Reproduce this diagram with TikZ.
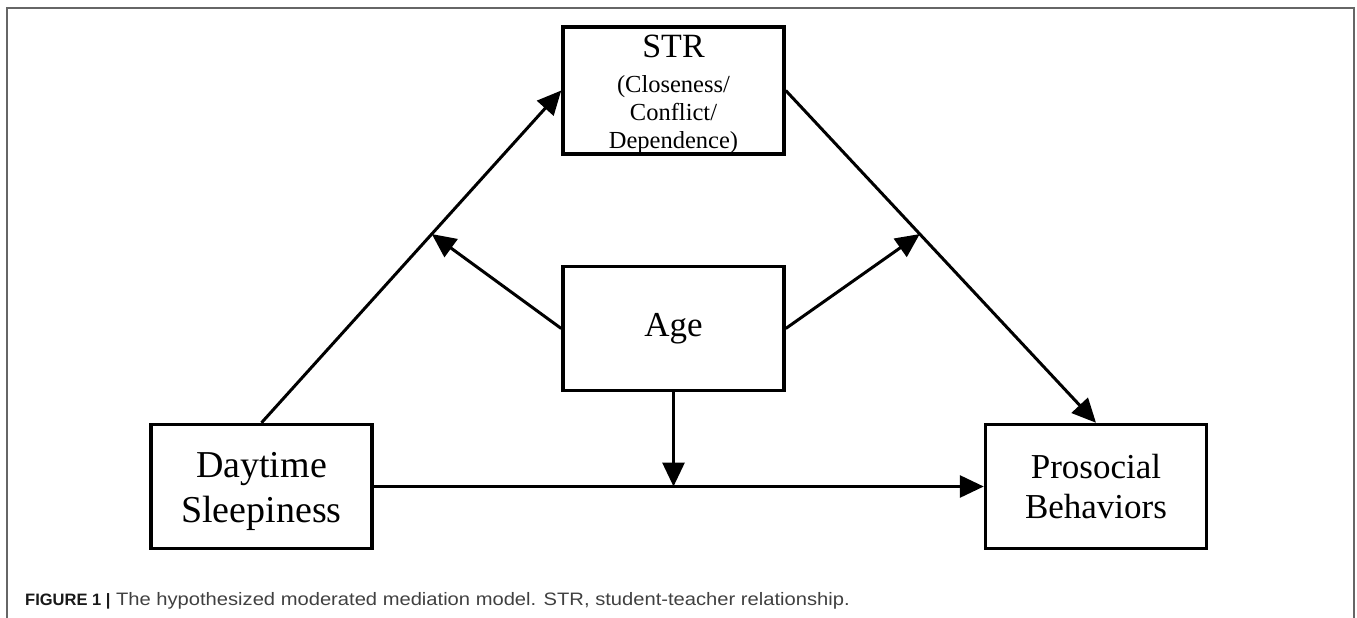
\documentclass[tikz,border=0pt]{standalone}
\usepackage{fontspec}
\setmainfont{Liberation Serif}
\newfontfamily\capfont[FakeStretch=1.12]{Liberation Sans}
\newfontfamily\capboldfont{Liberation Sans}
\usetikzlibrary{arrows.meta}
\newcommand\strtitle{\fontsize{34}{34}\selectfont}
\begin{document}
\begin{tikzpicture}[x=1pt,y=-1pt,
  box/.style={draw, line width=3.5pt, minimum width=221pt, minimum height=124pt,
    inner sep=0pt, align=center, font=\fontsize{35}{40}\selectfont},
  conn/.style={line width=3pt, -{Triangle[length=24pt,width=22pt]}},
  frame/.style={draw=black!60, line width=1.5pt}]
\useasboundingbox (0,0) rectangle (1357,618);
\draw[frame] (7,618) -- (7,8) -- (1354,8) -- (1354,618);

\node[box, font=\fontsize{24.5}{26}\selectfont] (s) at (673.5,90.5)
  {\strtitle\rule{0pt}{31pt}STR\\[9pt](Closeness/\\[2pt]Conflict/\\[2pt]Dependence)};
\node[box] (a) at (673.5,328.5) {Age};
\node[box, font=\fontsize{38}{45}\selectfont] (d) at (261.5,486.5) {\rule{0pt}{36pt}Daytime\\Sleepiness};
\node[box] (p) at (1096,486.5) {Prosocial\\Behaviors};

\draw[conn] (d.north) -- coordinate[pos=0.568] (m1) (s.west);
\draw[conn] (s.east) -- coordinate[pos=0.432] (m2) (p.north);
\draw[conn] (d.east) -- (p.west);
\coordinate (m3) at (a.south |- d.east);
\draw[conn] (a.west) -- (m1);
\draw[conn] (a.east) -- (m2);
\draw[conn] (a.south) -- (m3);

\node[anchor=base west, inner sep=0pt, text=black!75, font=\capfont\fontsize{18}{20}\selectfont] (cap) at (25,605)
  {{\capboldfont\fontsize{16.5}{20}\selectfont\color{black!90}\bfseries FIGURE 1 |} The hypothesized moderated mediation model. STR, student-teacher relationship.};
\end{tikzpicture}
\end{document}
